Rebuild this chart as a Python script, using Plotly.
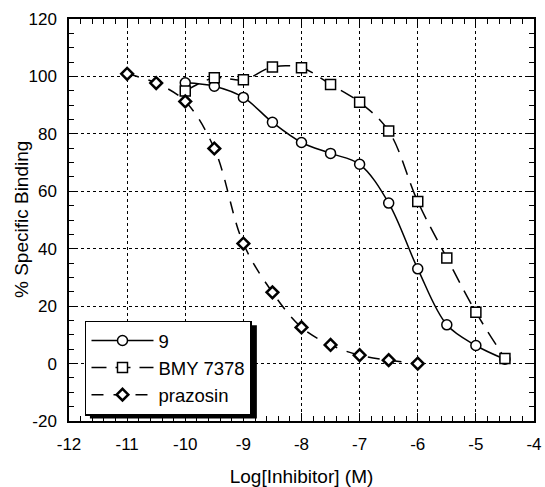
import plotly.graph_objects as go

log_conc_9 = [-10, -9.5, -9, -8.5, -8, -7.5, -7, -6.5, -6, -5.5, -5, -4.5]
binding_9 = [97.8, 96.6, 92.7, 84.0, 77.0, 73.2, 69.4, 55.9, 33.0, 13.5, 6.3, 1.5]

log_conc_bmy = [-10, -9.5, -9, -8.5, -8, -7.5, -7, -6.5, -6, -5.5, -5, -4.5]
binding_bmy = [94.9, 99.5, 98.8, 103.3, 103.0, 97.2, 91.0, 81.0, 56.4, 36.8, 17.9, 1.8]

log_conc_prz = [-11, -10.5, -10, -9.5, -9, -8.5, -8, -7.5, -7, -6.5, -6]
binding_prz = [100.9, 97.7, 91.3, 74.9, 41.8, 24.8, 12.6, 6.5, 2.9, 1.2, 0.0]

x_tick_vals = [-12, -11, -10, -9, -8, -7, -6, -5, -4]
x_tick_text = ["-12", "-11", "-10", "-9", "-8", "-7", "-6", "-5", "-4"]
y_tick_vals = [-20, 0, 20, 40, 60, 80, 100, 120]
y_tick_text = ["-20", "0", "20", "40", "60", "80", "100", "120"]

FONT = "Liberation Sans, Arial, Helvetica, sans-serif"

fig = go.Figure()
fig.add_trace(go.Scatter(
    x=log_conc_9, y=binding_9, name="9", mode="lines+markers",
    line=dict(color="black", width=1.5, shape="spline", smoothing=1),
    marker=dict(symbol="circle", size=10, color="white", line=dict(color="black", width=1.5)),
))
fig.add_trace(go.Scatter(
    x=log_conc_bmy, y=binding_bmy, name="BMY 7378", mode="lines+markers",
    line=dict(color="black", width=1.5, shape="spline", smoothing=1, dash="15px,9px"),
    marker=dict(symbol="square", size=10, color="white", line=dict(color="black", width=1.5)),
))
fig.add_trace(go.Scatter(
    x=log_conc_prz, y=binding_prz, name="prazosin", mode="lines+markers",
    line=dict(color="black", width=1.5, shape="spline", smoothing=1, dash="12px,10px"),
    marker=dict(symbol="diamond", size=9, color="white", line=dict(color="black", width=2.5)),
))

axis_common = dict(
    showline=True, linecolor="black", linewidth=1.5, mirror=True,
    ticks="inside", ticklen=8, tickwidth=1.2, tickcolor="black",
    showgrid=True, gridcolor="black", gridwidth=1, griddash="dot",
    zeroline=False, automargin=False,
    tickfont=dict(family=FONT, size=17, color="black"),
)

fig.update_layout(
    xaxis=dict(
        range=[-12, -4], tickvals=x_tick_vals, ticktext=x_tick_text,
        minor=dict(dtick=0.2, tick0=-12, ticks="inside", ticklen=5, tickcolor="black", showgrid=False),
        title=dict(text="Log[Inhibitor] (M)", font=dict(family=FONT, size=19, color="black"), standoff=18),
        ticklabelstandoff=7,
        **axis_common,
    ),
    yaxis=dict(
        range=[-20, 120], tickvals=y_tick_vals, ticktext=y_tick_text,
        minor=dict(dtick=5, tick0=-20, ticks="inside", ticklen=5, tickcolor="black", showgrid=False),
        ticklabelstandoff=7,
        **axis_common,
    ),
    xaxis2=dict(
        overlaying="x", side="top", matches="x", range=[-12, -4],
        tickvals=x_tick_vals, showticklabels=False, showgrid=False, zeroline=False,
        ticks="inside", ticklen=8, tickwidth=1.2, tickcolor="black", automargin=False,
        minor=dict(dtick=0.2, tick0=-12, ticks="inside", ticklen=5, tickcolor="black", showgrid=False),
        showline=False,
    ),
    yaxis2=dict(
        overlaying="y", side="right", matches="y", range=[-20, 120],
        tickvals=y_tick_vals, showticklabels=False, showgrid=False, zeroline=False,
        ticks="inside", ticklen=8, tickwidth=1.2, tickcolor="black", automargin=False,
        minor=dict(dtick=5, tick0=-20, ticks="inside", ticklen=5, tickcolor="black", showgrid=False),
        showline=False,
    ),
)

# invisible trace to activate the mirrored tick axes
fig.add_trace(go.Scatter(x=[-12], y=[-20], xaxis="x2", yaxis="y2", mode="markers",
                         marker=dict(opacity=0), showlegend=False, hoverinfo="skip"))

# y axis title
fig.add_annotation(text="% Specific Binding", xref="paper", yref="paper",
                   x=-0.1032, y=0.5, xanchor="center", yanchor="middle",
                   textangle=-90, showarrow=False,
                   font=dict(family=FONT, size=19, color="black"))

# legend drop shadow
fig.add_shape(type="rect", xref="paper", yref="paper",
              x0=0.045, x1=0.404, y0=0.006, y1=0.238,
              fillcolor="black", line=dict(width=0), layer="above")

fig.update_layout(
    width=545, height=487,
    margin=dict(l=69, r=11, t=19, b=66),
    paper_bgcolor="white", plot_bgcolor="white",
    showlegend=True,
    legend=dict(
        x=0.0344, y=0.25, xanchor="left", yanchor="top",
        bgcolor="white", bordercolor="black", borderwidth=1.5,
        font=dict(family=FONT, size=18.5, color="black"),
        itemwidth=62, tracegroupgap=0,
    ),
    font=dict(family=FONT, color="black"),
)

fig.write_html("out.html", config={"displayModeBar": False},
               post_script="document.body.style.margin='0';")
